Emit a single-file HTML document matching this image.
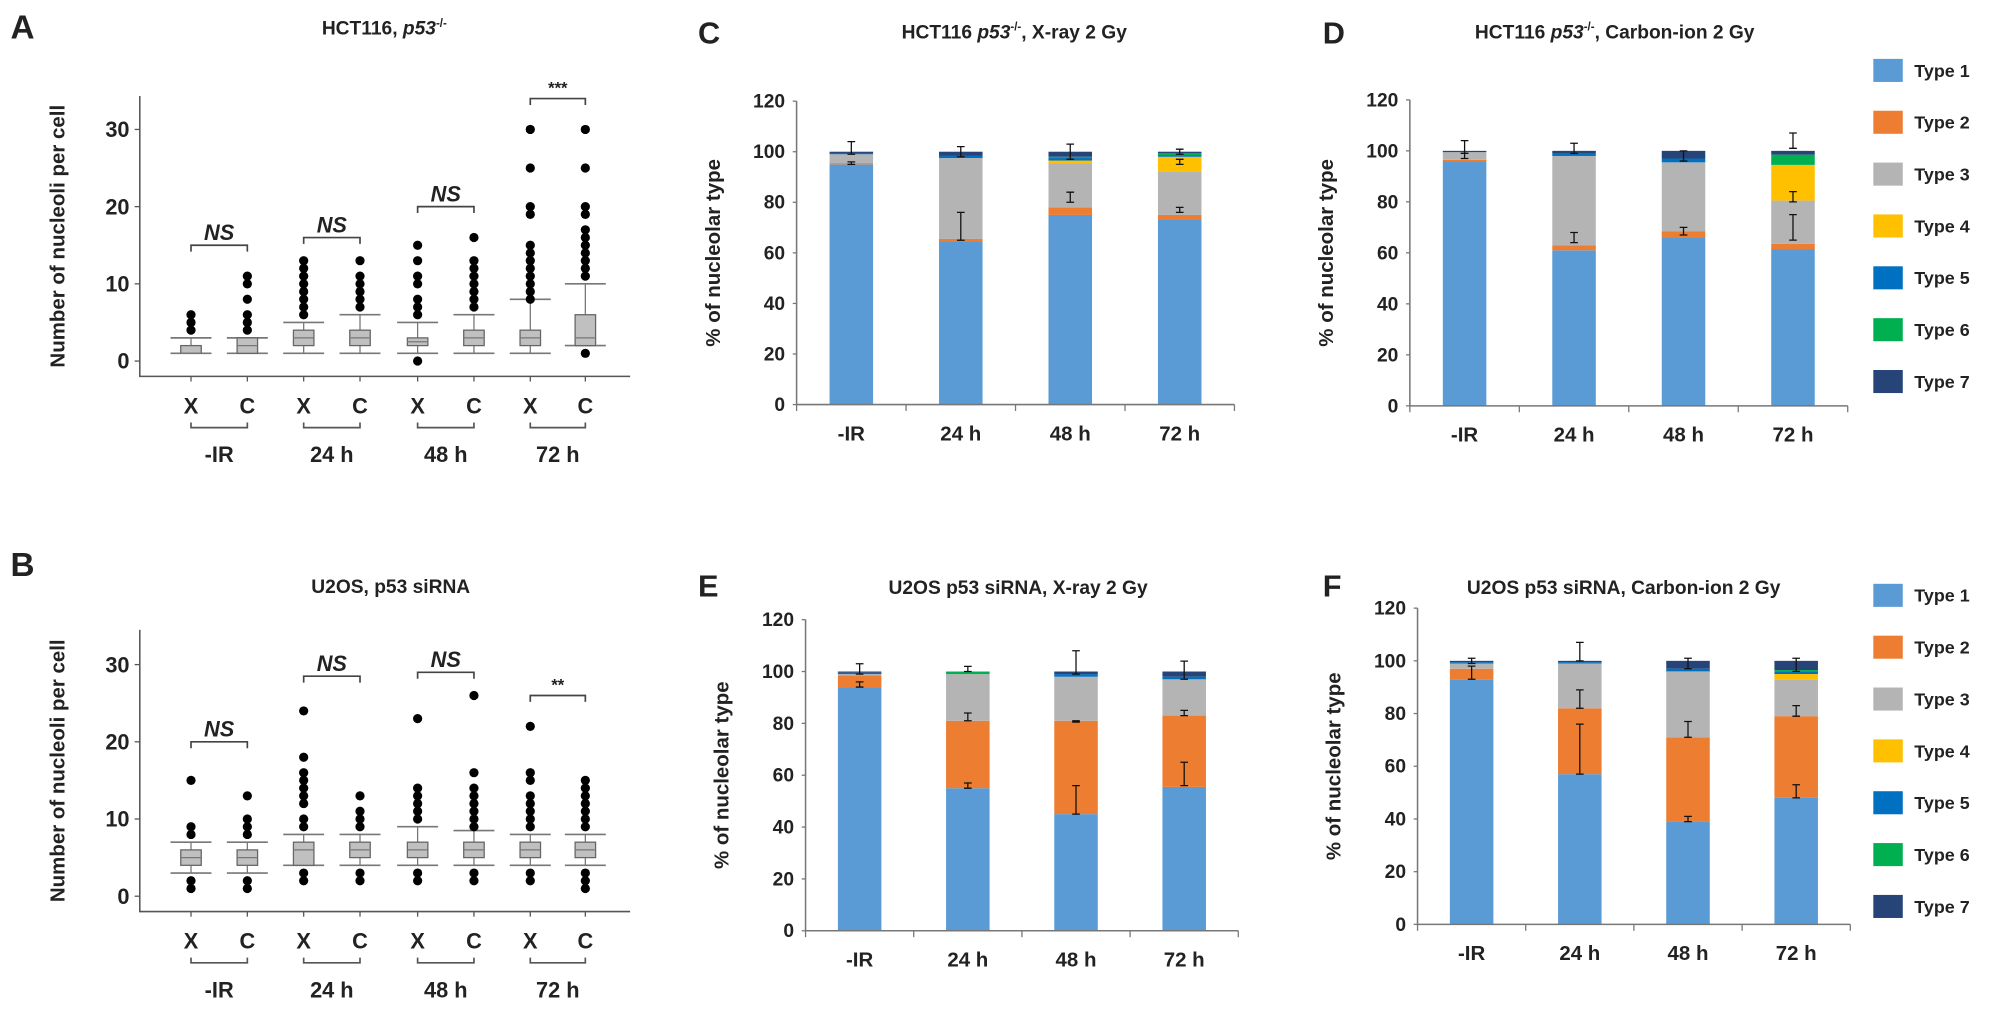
<!DOCTYPE html>
<html><head><meta charset="utf-8"><style>
html,body{margin:0;padding:0;background:#fff;}
svg{display:block;font-family:"Liberation Sans",Arial,sans-serif;}
</style></head><body>
<svg id="fig" width="2008" height="1014" viewBox="0 0 1568 792" xmlns="http://www.w3.org/2000/svg"></svg>
<script>
// ---------- Box plot data (A, B) ----------
const groupLabels = ['-IR','24 h','48 h','72 h'];
const boxLabels = ['X','C','X','C','X','C','X','C'];
// [whiskerLow, q1, median, q3, whiskerHigh]
const boxA = [[1,1,1,2,3],[1,1,2,3,3],[1,2,3,4,5],[1,2,3,4,6],[1,2,2.5,3,5],[1,2,3,4,6],[1,2,3,4,8],[2,2,3,6,10]];
const outA = [[4,5,6],[4,5,6,8,10,11],[6,7,8,9,10,11,12,13],[7,8,9,10,11,13],[0,6,7,8,10,11,13,15],[7,8,9,10,11,12,13,16],[8,9,10,11,12,13,14,15,19,20,25,30],[1,11,12,13,14,15,16,17,19,20,25,30]];
const sigA = ['NS','NS','NS','***'];
const sigAy = [15,16,20,34];
const boxB = [[3,4,5,6,7],[3,4,5,6,7],[4,4,6,7,8],[4,5,6,7,8],[4,5,6,7,9],[4,5,6,7,8.5],[4,5,6,7,8],[4,5,6,7,8]];
const outB = [[1,2,8,9,15],[1,2,8,9,10,13],[2,3,9,10,12,13,14,15,16,18,24],[2,3,9,10,11,13],[2,3,10,11,12,13,14,23],[2,3,9,10,11,12,13,14,16,26],[2,3,9,10,11,12,13,15,16,22],[1,2,3,9,10,11,12,13,14,15]];
const sigB = ['NS','NS','NS','**'];
const sigBy = [20,28.5,29,26];
const boxTicks = [0,10,20,30];

// ---------- Stacked bar data (C-F) ----------
const categories = ['-IR','24 h','48 h','72 h'];
const typeNames = ['Type 1','Type 2','Type 3','Type 4','Type 5','Type 6','Type 7'];
const typeColors = ['#5b9bd5','#ed7d31','#b4b4b4','#ffc000','#0070c0','#00b050','#264478'];
const barTicks = [0,20,40,60,80,100,120];
// each row: category; columns Type1..Type7
const stackC = [[95,0.5,3.5,0,0.5,0,0.5],[64.5,1,32,0,1,0,1.5],[75,3,17.5,1,1,0.5,2],[73,2,17,6,0.5,1,0.5]];
const stackD = [[96,0.5,3,0,0,0,0.5],[61,2,35,0,1,0,1],[66,2.5,27,0,1.5,0,3],[61.5,2,17,14,0,4,1.5]];
const stackE = [[94,4.5,0.5,0,0.5,0,0.5],[55,26,18,0,0,1,0],[45,36,17,0,1,0,1],[55.5,27.5,14,0,1,0,2]];
const stackF = [[93,4,2,0,0.5,0,0.5],[57,25,17,0,0.5,0,0.5],[39,32,25,0,1,0,3],[48,31,14,2,1,0.5,3.5]];
// error bars: [category, from, to]
const errC = [[0,95,96],[0,99,104],[1,65,76],[1,98,102],[2,80,84],[2,97,103],[3,76,78],[3,95,97],[3,99,101]];
const errD = [[0,97,99],[0,99,104],[1,64,68],[1,99,103],[2,67,70],[2,96,100],[3,65,75],[3,80,84],[3,101,107]];
const errE = [[0,94,96],[0,99,103],[1,55,57],[1,81,84],[1,100,102],[2,45,56],[2,80.5,81],[2,99,108],[3,56,65],[3,83,85],[3,97,104]];
const errF = [[0,93,98],[0,99,101],[1,57,76],[1,82,89],[1,100,107],[2,39,41],[2,71,77],[2,97,101],[3,48,53],[3,79,83],[3,96,101]];

const NS='http://www.w3.org/2000/svg';
const svg=document.getElementById('fig');
function el(tag,attrs,parent){const e=document.createElementNS(NS,tag);for(const k in attrs)e.setAttribute(k,attrs[k]);(parent||svg).appendChild(e);return e;}
function txt(s,x,y,size,anchor,parent,extra){const t=el('text',Object.assign({x:x,y:y,'font-size':size,'font-weight':'bold','text-anchor':anchor||'middle',fill:'#222'},extra||{}),parent);t.textContent=s;return t;}

const xs=[149,193,237,281,326,370,414,457];

function boxPanel(name,letter,ly,title,ty,box,out,sig,sigy,y0,axisTop,axisY,xcY,brY,grY){
  const g=el('g',{});
  
  
  const yv=v=>y0-v*6.03;
  const L=txt(letter,8,ly,26,'start',g);
  
  
  const T=txt(title,305,ty,15,'middle',g);
  
  
  const yt=txt('Number of nucleoli per cell',0,0,16,'middle',g,{transform:'translate(50,'+((axisTop+axisY)/2)+') rotate(-90)'});
  
  
  const ax=el('path',{d:'M109 '+axisTop+' V'+axisY+' H492',stroke:'#555','stroke-width':1.2,fill:'none'},g);
  
  
  boxTicks.forEach(v=>{
    el('line',{x1:105,x2:109,y1:yv(v),y2:yv(v),stroke:'#555'},g);
    const tl=txt(String(v),101,yv(v)+6,17,'end',g);
    
    
  });
  box.forEach((b,i)=>{
    const x=xs[i];
    el('line',{x1:x,x2:x,y1:axisY,y2:axisY+4,stroke:'#555'},g);
    const bg=el('g',{},g);
    
    
    el('line',{x1:x,x2:x,y1:yv(b[0]),y2:yv(b[4]),stroke:'#777','stroke-width':1},bg);
    el('line',{x1:x-16,x2:x+16,y1:yv(b[0]),y2:yv(b[0]),stroke:'#777','stroke-width':1.3},bg);
    el('line',{x1:x-16,x2:x+16,y1:yv(b[4]),y2:yv(b[4]),stroke:'#777','stroke-width':1.3},bg);
    el('rect',{x:x-8,y:yv(b[3]),width:16,height:Math.max(1,yv(b[1])-yv(b[3])),fill:'#c0c0c0',stroke:'#666','stroke-width':1},bg);
    el('line',{x1:x-8,x2:x+8,y1:yv(b[2]),y2:yv(b[2]),stroke:'#777','stroke-width':1},bg);
    out[i].forEach(v=>{
      const c=el('circle',{cx:x,cy:yv(v),r:3.6,fill:'#000'},bg);
      
      
    });
    const xl=txt(boxLabels[i],x,xcY,17,'middle',g);
    
    
  });
  groupLabels.forEach((s,k)=>{
    const a=xs[2*k],b=xs[2*k+1];
    el('path',{d:'M'+a+' '+(brY-4)+' V'+brY+' H'+b+' V'+(brY-4),stroke:'#555','stroke-width':1.3,fill:'none'},g);
    const gl=txt(s,(a+b)/2,grY,17,'middle',g);
    
    
    const sy=yv(sigy[k]);
    el('path',{d:'M'+a+' '+(sy+5)+' V'+sy+' H'+b+' V'+(sy+5),stroke:'#444','stroke-width':1.3,fill:'none'},g);
    const st=txt(sig[k],(a+b)/2,sy-4,sig[k]==='NS'?17:13,'middle',g,sig[k]==='NS'?{'font-style':'italic'}:{});
    
    
  });
}
boxPanel('panel-a-boxplot','A',30,'',27,boxA,outA,sigA,sigAy,282,75,294,323,334,361);
// panel A title with superscript
(function(){const t=el('text',{x:300,y:27,'font-size':15,'font-weight':'bold','text-anchor':'middle',fill:'#222'});


t.innerHTML='HCT116, <tspan font-style="italic">p53</tspan><tspan font-size="9" dy="-6">-/-</tspan>';})();
boxPanel('panel-b-boxplot','B',450,'U2OS, p53 siRNA',463,boxB,outB,sigB,sigBy,700,492,712,741,752,779);

function barPanel(name,letter,lx,ly,titleHTML,tcx,ty,stack,errs,ax0,ax1,yTop,y0,showLegend,legY){
  const g=el('g',{});
  
  
  const yv=v=>y0-(y0-yTop)*v/120;
  const L=txt(letter,lx,ly,24,'start',g);
  
  
  const T=el('text',{x:tcx,y:ty,'font-size':15,'font-weight':'bold','text-anchor':'middle',fill:'#222'},g);
  
  
  T.innerHTML=titleHTML;
  const yt=txt('% of nucleolar type',0,0,16,'middle',g,{transform:'translate('+(ax0-60)+','+((yTop+y0)/2)+') rotate(-90)'});
  
  
  const w=(ax1-ax0)/categories.length;
  const xc=i=>ax0+w*(i+0.5);
  stack.forEach((row,i)=>{
    let acc=0;
    row.forEach((v,t)=>{
      if(v<=0)return;
      const r=el('rect',{x:xc(i)-17,y:yv(acc+v),width:34,height:yv(acc)-yv(acc+v),fill:typeColors[t]},g);
      
      
      acc+=v;
    });
    const cl=txt(categories[i],xc(i),y0+28,16,'middle',g);
    
    
  });
  errs.forEach(e=>{
    const x=xc(e[0]);
    const eb=el('path',{d:'M'+x+' '+yv(e[1])+' V'+yv(e[2])+' M'+(x-3)+' '+yv(e[2])+' H'+(x+3)+' M'+(x-3)+' '+yv(e[1])+' H'+(x+3),stroke:'#111','stroke-width':1,fill:'none'},g);
    
    
  });
  const ax=el('path',{d:'M'+ax0+' '+yTop+' V'+y0+' H'+ax1,stroke:'#777','stroke-width':1.2,fill:'none'},g);
  
  
  for(let i=0;i<=categories.length;i++)el('line',{x1:ax0+w*i,x2:ax0+w*i,y1:y0,y2:y0+5,stroke:'#777'},g);
  barTicks.forEach(v=>{
    el('line',{x1:ax0-3,x2:ax0,y1:yv(v),y2:yv(v),stroke:'#777'},g);
    const tl=txt(String(v),ax0-9,yv(v)+5,15,'end',g);
    
    
  });
  if(showLegend){
    typeNames.forEach((n,t)=>{
      const cy=legY+t*40.5;
      const sw=el('rect',{x:1463,y:cy-9,width:23,height:18,fill:typeColors[t]},g);
      
      
      const lt=txt(n,1495,cy+5,14,'start',g);
      
      
    });
  }
}
const sup='<tspan font-style="italic">p53</tspan><tspan font-size="9" dy="-6">-/-</tspan><tspan dy="6">';
barPanel('panel-c-stacked-bar','C',545,34,'HCT116 '+sup+', X-ray 2 Gy</tspan>',792,30,stackC,errC,622,964,79,316,false,0);
barPanel('panel-d-stacked-bar','D',1033,34,'HCT116 '+sup+', Carbon-ion 2 Gy</tspan>',1261,30,stackD,errD,1101,1443,78,317,true,55);
barPanel('panel-e-stacked-bar','E',545,466,'U2OS p53 siRNA, X-ray 2 Gy',795,464,stackE,errE,629,967,484,727,false,0);
barPanel('panel-f-stacked-bar','F',1033,466,'U2OS p53 siRNA, Carbon-ion 2 Gy',1268,464,stackF,errF,1107,1445,475,722,true,465);
</script>
</body></html>
